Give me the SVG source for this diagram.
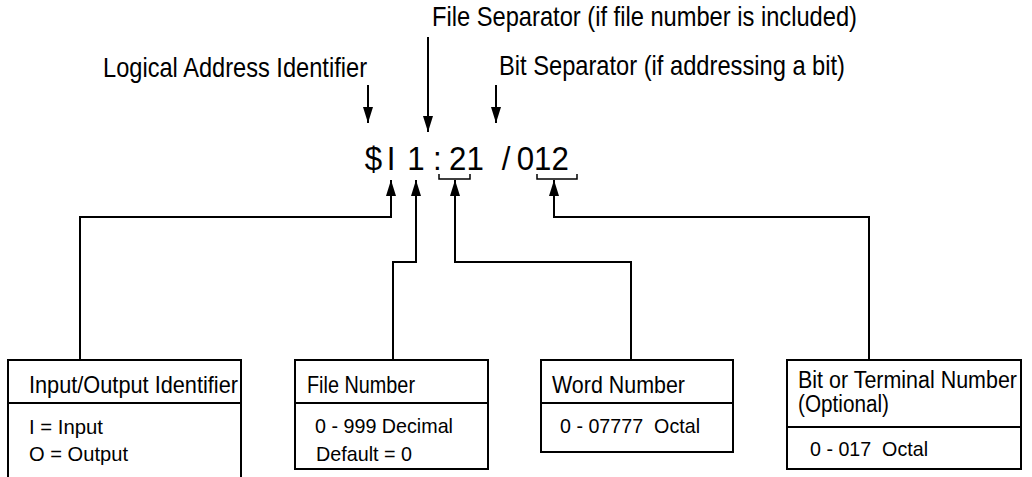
<svg xmlns="http://www.w3.org/2000/svg" width="1032" height="477" viewBox="0 0 1032 477">
  <style>
    text { font-family: "Liberation Sans", Arial, sans-serif; fill: #000; white-space: pre; }
    .lbl { font-size: 28px; }
    .main { font-size: 34px; }
    .hd { font-size: 24px; }
    .hd2 { font-size: 23px; }
    .bd { font-size: 21px; }
    .box { fill: #fff; stroke: #000; stroke-width: 2; }
    .div { stroke: #000; stroke-width: 2; fill: none; }
    .con { stroke: #000; stroke-width: 2; fill: none; }
    .brk { stroke: #000; stroke-width: 1.5; fill: none; }
  </style>
  <defs>
    <marker id="ah" markerUnits="userSpaceOnUse" markerWidth="16" markerHeight="12" viewBox="0 0 16 12" refX="16" refY="6" orient="auto">
      <path d="M0,1 L16,6 L0,11 Z" fill="#000"/>
    </marker>
  </defs>
  <rect width="1032" height="477" fill="#fff"/>

  <g id="top-labels">
    <text class="lbl" x="103" y="77" textLength="264" lengthAdjust="spacingAndGlyphs">Logical Address Identifier</text>
    <text class="lbl" x="432" y="26" textLength="425" lengthAdjust="spacingAndGlyphs">File Separator (if file number is included)</text>
    <text class="lbl" x="499" y="75" textLength="346" lengthAdjust="spacingAndGlyphs">Bit Separator (if addressing a bit)</text>
  </g>

  <g id="address">
    <text class="main" transform="scale(0.92,1)" y="170" text-anchor="middle"><tspan x="406">$</tspan><tspan x="425">I</tspan><tspan x="452">1</tspan><tspan x="475.5">:</tspan><tspan x="507">21</tspan><tspan x="550">/</tspan><tspan x="590">012</tspan></text>
    <path class="brk" d="M439,174 V179 H470 V174"/>
    <path class="brk" d="M537,174 V179 H577 V174"/>
  </g>

  <g id="connectors">
    <path class="con" d="M368,85 V123" marker-end="url(#ah)"/>
    <path class="con" d="M428,37 V132" marker-end="url(#ah)"/>
    <path class="con" d="M496,85 V123" marker-end="url(#ah)"/>
    <path class="con" d="M80,360 V217 H391 V180" marker-end="url(#ah)"/>
    <path class="con" d="M393,360 V262 H416 V180" marker-end="url(#ah)"/>
    <path class="con" d="M631,360 V262 H455 V180" marker-end="url(#ah)"/>
    <path class="con" d="M869,360 V217 H554 V180" marker-end="url(#ah)"/>
  </g>

  <g id="node-io">
    <rect class="box" x="8" y="360" width="233" height="130"/>
    <line class="div" x1="8" y1="403" x2="241" y2="403"/>
    <text class="hd" x="29" y="393" textLength="209" lengthAdjust="spacingAndGlyphs">Input/Output Identifier</text>
    <text class="bd" x="29" y="434" textLength="74" lengthAdjust="spacingAndGlyphs">I = Input</text>
    <text class="bd" x="29" y="461" textLength="99" lengthAdjust="spacingAndGlyphs">O = Output</text>
  </g>

  <g id="node-file">
    <rect class="box" x="295" y="360" width="193" height="109"/>
    <line class="div" x1="295" y1="403" x2="488" y2="403"/>
    <text class="hd" x="307" y="393" textLength="108" lengthAdjust="spacingAndGlyphs">File Number</text>
    <text class="bd" x="315" y="433" textLength="138" lengthAdjust="spacingAndGlyphs">0 - 999 Decimal</text>
    <text class="bd" x="316" y="461" textLength="96" lengthAdjust="spacingAndGlyphs">Default = 0</text>
  </g>

  <g id="node-word">
    <rect class="box" x="541" y="360" width="192" height="92"/>
    <line class="div" x1="541" y1="403" x2="733" y2="403"/>
    <text class="hd" x="552" y="393" textLength="133" lengthAdjust="spacingAndGlyphs">Word Number</text>
    <text class="bd" x="560" y="433" textLength="140" lengthAdjust="spacingAndGlyphs">0 - 07777  Octal</text>
  </g>

  <g id="node-bit">
    <rect class="box" x="787" y="360" width="234" height="109"/>
    <line class="div" x1="787" y1="427" x2="1021" y2="427"/>
    <text class="hd2" x="798" y="388" textLength="219" lengthAdjust="spacingAndGlyphs">Bit or Terminal Number</text>
    <text class="hd2" x="798" y="412" textLength="91" lengthAdjust="spacingAndGlyphs">(Optional)</text>
    <text class="bd" x="810" y="456" textLength="118" lengthAdjust="spacingAndGlyphs">0 - 017  Octal</text>
  </g>
</svg>
